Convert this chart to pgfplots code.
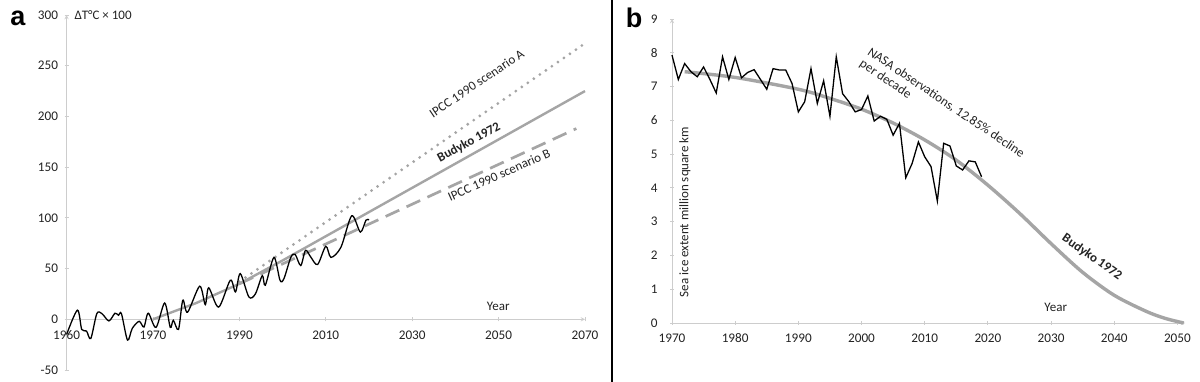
\documentclass[border=0pt]{standalone}
\usepackage{pgfplots}
\pgfplotsset{compat=1.18}
\usepackage{fontspec}
\setmainfont{Carlito}
\newfontfamily\arialf{Liberation Sans}
\definecolor{lgray}{RGB}{165,165,165}
\definecolor{axgray}{RGB}{205,205,205}
\definecolor{txt}{RGB}{35,35,35}
\begin{document}
\begin{tikzpicture}[x=1pt,y=1pt]
\path[use as bounding box] (0,0) rectangle (1200,382);
\fill[white] (0,0) rectangle (1200,382);
\pgfplotsset{
  myax/.style={
    scale only axis, anchor=south west, clip=false,
    axis line style={draw=axgray, line width=0.9pt},
    every inner x axis line/.append style={-},
    every outer x axis line/.append style={-},
    every outer y axis line/.append style={-},
    tick style={draw=axgray, line width=0.9pt},
    tick align=outside, major tick length=4pt,
    ticklabel style={font=\fontsize{13.2}{15}\selectfont, text=txt},
  }
}
% ---------------- panel a ----------------
\begin{axis}[myax,
  at={(66.6pt,12pt)}, width=518.4pt, height=355pt,
  xmin=1950, xmax=2070, ymin=-50, ymax=300,
  axis x line=middle, axis y line=left,
  hide obscured x ticks=false, hide obscured y ticks=false,
  xtick={1950,1970,1990,2010,2030,2050,2070},
  xticklabels={1960,1970,1990,2010,2030,2050,2070},
  ytick={-50,0,50,100,150,200,250,300},
  yticklabels={-50,0,50,100,150,200,250,300},
  xticklabel style={yshift=-6pt},
  yticklabel style={xshift=-3pt},
]
\addplot[lgray, line width=2.4pt] coordinates {(1970,0)(1980,16)(1990,35)(2000,58)(2070,225)};
\addplot[lgray, line width=3.1pt, line cap=round, dash pattern=on 0pt off 7.3pt] coordinates {(1990,37)(2070,272)};
\addplot[lgray, line width=2.7pt, dash pattern=on 15pt off 8pt] coordinates {(1990,35)(2068,188)};
\addplot[black, line width=1.3pt, smooth, tension=0.5] coordinates {
(1950,-15)(1952.5,9)(1953.5,-10)(1954.6,-11.5)(1955.6,-19)(1957,5.6)(1958.2,5.5)
(1959.8,-1.6)(1961.2,6)(1962,4)(1962.7,5.5)(1964.1,-20.5)(1965.2,-9)(1966.8,-2)
(1967.9,-7.6)(1968.9,6)(1970.7,-8)(1972.7,16)(1974,-8)(1974.7,-1)(1975.9,-10)
(1976.9,18.8)(1978,7)(1980.8,32.6)(1982.1,14.5)(1982.9,31)(1985.2,12)(1987.9,38.5)
(1989.1,27)(1990.2,45)(1992.2,22)(1993.7,25)(1995.3,43)(1996,33.6)(1998,61)
(1999.4,38.5)(2000.3,40)(2001.9,61)(2002.9,64)(2004.2,53)(2005.3,68)(2006.5,61.5)
(2008.1,54)(2010,72)(2011.2,61)(2013.5,71)(2016,102)(2018,86)(2019.3,97.7)(2020,98)};
\end{axis}
% ---------------- panel b ----------------
\begin{axis}[myax,
  at={(672pt,59pt)}, width=513pt, height=304pt,
  xmin=1970, xmax=2051.2, ymin=0, ymax=9,
  axis x line=bottom, axis y line=left,
  xtick={1970,1980,1990,2000,2010,2020,2030,2040,2050},
  xticklabels={1970,1980,1990,2000,2010,2020,2030,2040,2050},
  ytick={0,1,2,3,4,5,6,7,8,9},
  yticklabels={0,1,2,3,4,5,6,7,8,9},
  xticklabel style={yshift=-5pt},
  yticklabel style={xshift=-9pt},
]
\addplot[lgray, line width=3.4pt, smooth] coordinates {
(1972,7.44)(1980,7.27)(1990,6.92)(1995,6.65)(2000,6.33)(2005,5.92)(2010,5.42)
(2015,4.82)(2020,4.08)(2025,3.25)(2030,2.35)(2035,1.5)(2040,0.82)(2045,0.35)(2048,0.14)(2051,0.0)};
\addplot[black, line width=1.3pt] coordinates {
(1970,7.93)(1971,7.21)(1972,7.68)(1973,7.44)(1974,7.29)(1975,7.58)(1976,7.21)(1977,6.81)
(1978,7.88)(1979,7.21)(1980,7.86)(1981,7.26)(1982,7.42)(1983,7.5)(1984,7.21)(1985,6.92)
(1986,7.53)(1987,7.49)(1988,7.49)(1989,7.09)(1990,6.25)(1991,6.55)(1992,7.53)(1993,6.5)
(1994,7.17)(1995,6.12)(1996,7.88)(1997,6.79)(1998,6.55)(1999,6.25)(2000,6.32)(2001,6.72)
(2002,5.98)(2003,6.12)(2004,6.03)(2005,5.56)(2006,5.91)(2007,4.3)(2008,4.72)(2009,5.36)
(2010,4.92)(2011,4.63)(2012,3.61)(2013,5.32)(2014,5.24)(2015,4.65)(2016,4.53)(2017,4.8)
(2018,4.77)(2019,4.33)};
\end{axis}
% ---------------- annotations ----------------
\draw[black, line width=1.8pt] (612,0) -- (612,382);
\node[font=\arialf\bfseries\fontsize{27}{28}\selectfont] at (18,364) {a};
\node[font=\arialf\bfseries\fontsize{27}{28}\selectfont] at (634,364) {b};
\node[anchor=west, font=\fontsize{13}{15}\selectfont, text=txt] at (71,367) {ΔT°C × 100};
\node[rotate=34, font=\fontsize{13}{15}\selectfont, text=txt] at (476.7,298.7) {IPCC 1990 scenario A};
\node[rotate=28.5, font=\bfseries\fontsize{13}{15}\selectfont, text=txt] at (469,239.3) {Budyko 1972};
\node[rotate=24, font=\fontsize{13}{15}\selectfont, text=txt] at (499,207) {IPCC 1990 scenario B};
\node[font=\fontsize{13}{15}\selectfont, text=txt] at (498.3,76) {Year};
\node[rotate=90, font=\fontsize{13}{15}\selectfont, text=txt] at (685,170) {Sea ice extent million square km};
\node[rotate=-34, anchor=west, font=\fontsize{13}{15}\selectfont, text=txt] at (866,333) {NASA observations, 12.85\% decline};
\node[rotate=-34, anchor=west, font=\fontsize{13}{15}\selectfont, text=txt] at (858,321) {per decade};
\node[rotate=-35, font=\bfseries\fontsize{13}{15}\selectfont, text=txt] at (1092,125) {Budyko 1972};
\node[font=\fontsize{13}{15}\selectfont, text=txt] at (1055.7,75) {Year};
\end{tikzpicture}
\end{document}
